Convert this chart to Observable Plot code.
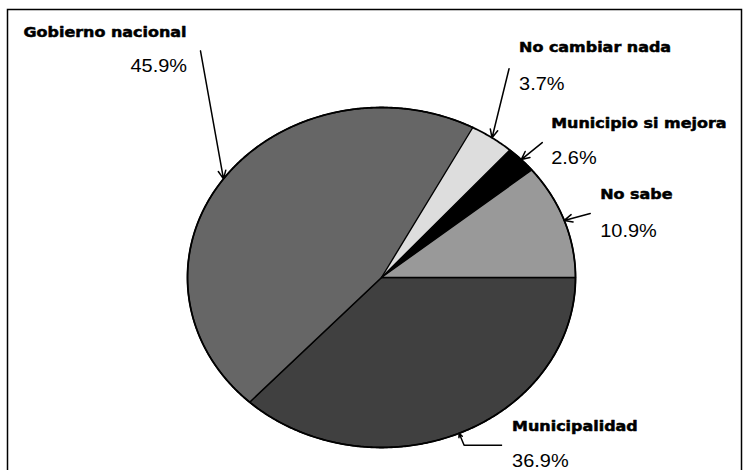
<!DOCTYPE html>
<html><head><meta charset="utf-8">
<script src="https://cdn.jsdelivr.net/npm/d3@7"></script>
<script src="https://cdn.jsdelivr.net/npm/@observablehq/plot@0.6"></script>
<style>body{margin:0;background:#fff;overflow:hidden}</style>
</head><body><div id="chart"></div>
<script>
// ---- data ----
const categories = ["Municipalidad", "Gobierno nacional", "No cambiar nada", "Municipio si mejora", "No sabe"];
const values = [36.9, 45.9, 3.7, 2.6, 10.9];
const valueLabels = ["36.9%", "45.9%", "3.7%", "2.6%", "10.9%"];
const colors = ["#404040", "#666666", "#dddddd", "#000000", "#999999"];

// ---- layout (pixels) ----
const W = 745, H = 470;
const CX = 381, CY = 277, RX = 194, RY = 170;
// callout offsets relative to the arrow tip (slice mid-point on the rim)
const callouts = [
  {path: [[43, 12], [5, 12]], name: [53, -2], pct: [53, 34]},
  {path: [[-23, -128]], name: [-200, -142], pct: [-93, -107]},
  {path: [[17, -69]], name: [27, -86], pct: [27, -48]},
  {path: [[21, -17]], name: [30, -32], pct: [30, 4]},
  {path: [[26, -7]], name: [36, -21], pct: [36, 17]}
];
const SX = 1.14; // horizontal stretch of the original picture

// ---- geometry from data ----
const data = categories.map((c, i) => ({cat: c, value: values[i], label: valueLabels[i]}));
const arcs = d3.pie().sort(null).value(d => d.value)
  .startAngle(Math.PI / 2).endAngle(Math.PI / 2 + 2 * Math.PI)(data);
const pt = a => [Math.sin(a), -Math.cos(a)];

const slicePts = [];
arcs.forEach(a => {
  const n = Math.max(2, Math.ceil((a.endAngle - a.startAngle) / (Math.PI / 360)));
  slicePts.push({cat: a.data.cat, x: 0, y: 0});
  for (let k = 0; k <= n; k++) {
    const [x, y] = pt(a.startAngle + (a.endAngle - a.startAngle) * k / n);
    slicePts.push({cat: a.data.cat, x, y});
  }
  slicePts.push({cat: a.data.cat, x: 0, y: 0});
});
const rim = d3.range(0, 721).map(k => { const [x, y] = pt(k * Math.PI / 360); return {x, y}; });

const arrows = [], segs = [], names = [], pcts = [];
arcs.forEach((a, i) => {
  const [tx, ty] = pt((a.startAngle + a.endAngle) / 2);
  const c = callouts[i];
  const P = c.path.map(([dx, dy]) => [tx + dx / RX, ty + dy / RY]);
  for (let k = 0; k < P.length - 1; k++)
    segs.push({x1: P[k][0], y1: P[k][1], x2: P[k + 1][0], y2: P[k + 1][1]});
  const last = P[P.length - 1];
  arrows.push({x1: last[0], y1: last[1], x2: tx, y2: ty});
  names.push({x: tx + c.name[0] / RX, y: ty + c.name[1] / RY, text: a.data.cat});
  pcts.push({x: tx + c.pct[0] / RX, y: ty + c.pct[1] / RY, text: a.data.label});
});

const lightCat = "No cambiar nada";
const plot = Plot.plot({
  width: W, height: H,
  margin: 0,
  x: {domain: [-CX / RX, (W - CX) / RX], range: [0, W], axis: null},
  y: {domain: [-CY / RY, (H - CY) / RY], range: [0, H], axis: null},
  color: {domain: categories, range: colors},
  marks: [
    Plot.frame({insetLeft: 7, insetTop: 9, insetRight: 4, insetBottom: -20, stroke: "black", strokeWidth: 1.5}),
    Plot.line(slicePts.filter(p => p.cat === lightCat), {x: "x", y: "y", z: "cat", fill: "cat", stroke: "#e8e8e8", strokeWidth: 1}),
    Plot.line(slicePts.filter(p => p.cat !== lightCat), {x: "x", y: "y", z: "cat", fill: "cat", stroke: "black", strokeWidth: 1.4, strokeLinejoin: "round"}),
    Plot.line(rim, {x: "x", y: "y", stroke: "black", strokeWidth: 1.8}),
    Plot.link(segs, {x1: "x1", y1: "y1", x2: "x2", y2: "y2", stroke: "black", strokeWidth: 1.5}),
    Plot.arrow(arrows, {x1: "x1", y1: "y1", x2: "x2", y2: "y2", stroke: "black", strokeWidth: 1.5, headLength: 9, headAngle: 50}),
    Plot.text(names, {x: "x", y: "y", text: "text", textAnchor: "start", lineAnchor: "bottom",
      fontFamily: "DejaVu Sans", fontWeight: "bold", fontSize: 14, fill: "black", stroke: "black", strokeWidth: 0.5}),
    Plot.text(pcts, {x: "x", y: "y", text: "text", textAnchor: "start", lineAnchor: "bottom",
      fontFamily: "Liberation Sans, Arial, sans-serif", fontSize: 17.5, fill: "black"})
  ]
});

// stretch labels horizontally like the original picture
d3.select(plot).selectAll("text").each(function () {
  const t = this.getAttribute("transform");
  if (t) this.setAttribute("transform", t + ` scale(${SX},1)`);
  else {
    const x = +this.getAttribute("x") || 0, y = +this.getAttribute("y") || 0;
    this.setAttribute("transform", `translate(${x},${y}) scale(${SX},1) translate(${-x},${-y})`);
  }
});
document.getElementById("chart").appendChild(plot);
</script>
</body></html>
